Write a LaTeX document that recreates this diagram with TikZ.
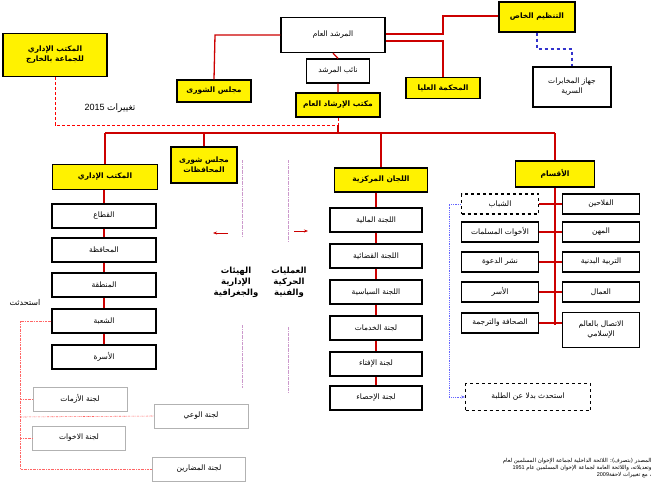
\documentclass[tikz,border=0pt]{standalone}
\usepackage{fontspec}
\setmainfont{Liberation Sans}
\newfontfamily\ar[Script=Arabic]{DejaVu Sans}
\TeXXeTstate=1
\newcommand{\A}[1]{{\ar\beginR #1\endR}}
\usetikzlibrary{arrows.meta}
\begin{document}
\begin{tikzpicture}[x=1pt,y=-1pt,
 bx/.style={draw,line width=1.3pt,inner sep=1pt,align=center,font=\fontsize{7.5}{10}\selectfont},
 yb/.style={bx,fill=yellow,font=\fontsize{7.5}{10}\selectfont\bfseries},
 wb/.style={bx,fill=white},
 lb/.style={draw=gray!60,line width=0.8pt,fill=white,inner sep=1pt,font=\fontsize{7.5}{10}\selectfont},
 rl/.style={draw=red!80!black,line width=1.3pt},
 pk/.style={draw=red!60,line width=0.6pt,dash pattern=on 2pt off 1pt on 0.5pt off 1pt},
 lv/.style={draw=violet!40,line width=0.8pt,dash pattern=on 3pt off 1pt on 0.5pt off 1pt}]
\useasboundingbox (0,0) rectangle (658,503);
% top
\node[wb,minimum width=104,minimum height=35] (mg) at (333,35) {\A{المرشد العام}};
\node[wb,minimum width=63,minimum height=24] (na) at (338,71) {\A{نائب المرشد}};
\node[yb,minimum width=84,minimum height=24] (mk) at (338,105) {\A{مكتب الإرشاد العام}};
\node[yb,minimum width=74,minimum height=22] (ms) at (214,91) {\A{مجلس الشورى}};
\node[yb,minimum width=74,minimum height=21] (mh) at (443,88) {\A{المحكمة العليا}};
\node[yb,minimum width=76,minimum height=30] (tk) at (537,17) {\A{التنظيم الخاص}};
\node[wb,minimum width=78,minimum height=40] (jh) at (572,87) {\A{جهاز المخابرات}\\\A{السرية}};
\node[yb,minimum width=104,minimum height=43] (kh) at (55,55) {\A{المكتب الإداري}\\\A{للجماعة بالخارج}};
\node[font=\fontsize{9}{11}\selectfont] (tg) at (110,108) {2015 \A{تغييرات}};
\draw[rl] (mg.south) -- (na.north) (na.south) -- (mk.north);
\draw[rl] (mg.west) ++(0,0) -- (215,35) -- (ms.north);
\draw[rl] (mg.east |- 0,34) -- (443,34) -- (443,16) -- (tk.west |- 0,16);
\draw[rl] (mg.east |- 0,41) -- (443,41) -- (mh.north -| 443,0);
\draw[blue!60!gray,line width=1.2pt,dashed] (tk.south) -- (537,49) -- (572,49) -- (jh.north -| 572,0);
\draw[red,line width=0.8pt,densely dashed] (kh.south) -- (55,125) -- (338,125) -- (mk.south);
% level 2
\node[yb,minimum width=105,minimum height=25] (mi) at (105,177) {\A{المكتب الإداري}};
\node[yb,minimum width=66,minimum height=36] (sm) at (204,165) {\A{مجلس شورى}\\\A{المحافظات}};
\node[yb,minimum width=93,minimum height=24] (lm) at (381,180) {\A{اللجان المركزية}};
\node[yb,minimum width=79,minimum height=26] (aq) at (555,174) {\A{الأقسام}};
\draw[rl] (338,125) -- (338,133);
\draw[rl] (105,133) -- (555,133);
\draw[rl] (105,133) -- (mi.north);
\draw[rl] (204,133) -- (sm.north);
\draw[rl] (381,133) -- (lm.north);
\draw[rl] (555,133) -- (aq.north);
% left column
\foreach \n/\t/\y in {q1/القطاع/216,q2/المحافظة/250,q3/المنطقة/285,q4/الشعبة/321,q5/الأسرة/357}
  \node[wb,minimum width=104,minimum height=24] (\n) at (104,\y) {\A{\t}};
\draw[rl] (mi.south -| 104,0) -- (q1.north);
\draw[rl] (q1) -- (q2) (q2) -- (q3) (q3) -- (q4) (q4) -- (q5);
\node[font=\fontsize{8}{10}\selectfont] (st) at (25,303) {\A{استحدثت}};
\node[lb,minimum width=94,minimum height=24] (c1) at (80,399) {\A{لجنة الأزمات}};
\node[lb,minimum width=94,minimum height=24] (c2) at (201,416) {\A{لجنة الوعي}};
\node[lb,minimum width=93,minimum height=24] (c3) at (79,438) {\A{لجنة الاخوات}};
\node[lb,minimum width=93,minimum height=24] (c4) at (199,469) {\A{لجنة المضارين}};
\draw[pk] (q4.west) -- (20,321) -- (20,469) -- (c4.west);
\draw[pk] (20,399) -- (c1.west);
\draw[pk] (20,417) -- (c2.west);
\draw[pk] (20,438) -- (c3.west);
% middle labels
\draw[lv] (242,160) -- (242,237) (242,325) -- (242,388);
\draw[lv] (288,160) -- (288,242) (288,327) -- (288,393);
\node[font=\fontsize{8.5}{11}\selectfont\bfseries,align=center] (hy) at (236,282) {\A{الهيئات}\\\A{الإدارية}\\\A{والجغرافية}};
\node[font=\fontsize{8.5}{11}\selectfont\bfseries,align=center] (am) at (289,282) {\A{العمليات}\\\A{الحركية}\\\A{والفنية}};
\coordinate (a1) at (228,233); \coordinate (a2) at (213,233);
\coordinate (b1) at (294,231); \coordinate (b2) at (308,231);
\draw[red!80!black,line width=1pt,-{Stealth[length=4pt]}] (a1) -- (a2);
\draw[red!80!black,line width=1pt,-{Stealth[length=4pt]}] (b1) -- (b2);
% central committees
\foreach \n/\t/\y in {l1/اللجنة المالية/220,l2/اللجنة القضائية/256,l3/اللجنة السياسية/292,l4/لجنة الخدمات/328,l5/لجنة الإفتاء/364,l6/لجنة الإحصاء/398}
  \node[wb,minimum width=92,minimum height=24] (\n) at (376,\y) {\A{\t}};
\draw[rl] (lm.south -| 376,0) -- (l1.north);
\draw[rl] (l1) -- (l2) (l2) -- (l3) (l3) -- (l4) (l4) -- (l5) (l5) -- (l6);
% sections
\node[wb,dashed,minimum width=77,minimum height=20] (s1) at (500,204) {\A{الشباب}};
\node[wb,minimum width=77,minimum height=20] (s2) at (500,232) {\A{الأخوات المسلمات}};
\node[wb,minimum width=77,minimum height=20] (s3) at (500,262) {\A{نشر الدعوة}};
\node[wb,minimum width=77,minimum height=20] (s4) at (500,292) {\A{الأسر}};
\node[wb,minimum width=77,minimum height=20] (s5) at (500,323) {\A{الصحافة والترجمة}};
\node[wb,minimum width=77,minimum height=20] (r1) at (601,204) {\A{الفلاحين}};
\node[wb,minimum width=77,minimum height=20] (r2) at (601,232) {\A{المهن}};
\node[wb,minimum width=77,minimum height=20] (r3) at (601,262) {\A{التربية البدنية}};
\node[wb,minimum width=77,minimum height=20] (r4) at (601,292) {\A{العمال}};
\node[wb,minimum width=77,minimum height=35] (r5) at (601,330) {\A{الاتصال بالعالم}\\\A{الإسلامي}};
\draw[rl] (aq.south) -- (555,325);
\draw[rl] (s1.east) -- (r1.west);
\draw[rl] (s2.east) -- (r2.west);
\draw[rl] (s3.east) -- (r3.west);
\draw[rl] (s4.east) -- (r4.west);
\draw[rl] (s5.east) -- (r5.west |- s5.east);
\node[wb,dashed,line width=0.9pt,minimum width=125,minimum height=27] (nw) at (528,397) {\A{استحدث بدلا عن الطلبة}};
\draw[blue!60,densely dotted,line width=0.8pt,-{Stealth[length=4pt]}] (s1.west) -- (449,204) -- (449,397) -- (nw.west);
% source
\node[font=\fontsize{5.5}{7}\selectfont,align=right,anchor=north east] (src) at (655,455)
 {\A{المصدر (بتصرف): اللائحة الداخلية لجماعة الإخوان المسلمين لعام}\\
  1951 \A{وتعديلاته، واللائحة العامة لجماعة الإخوان المسلمين عام}\\
  2009\A{، مع تغييرات لاحقة}};
\end{tikzpicture}
\end{document}
